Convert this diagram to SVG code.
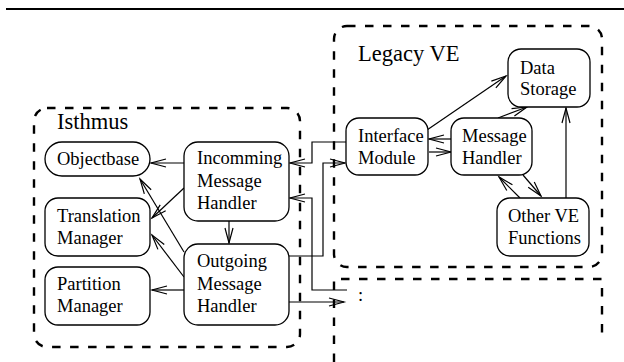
<svg xmlns="http://www.w3.org/2000/svg" width="624" height="362" viewBox="0 0 624 362">
  <style>
    .node { fill: #fff; stroke: #000; stroke-width: 1.3; }
    .group { fill: none; stroke: #000; stroke-width: 2.4; stroke-dasharray: 8.5 9.5; }
    .txt { font-family: "Liberation Serif", "Times New Roman", serif; font-size: 18.5px; fill: #000; }
    .lbl { font-family: "Liberation Serif", "Times New Roman", serif; font-size: 22.5px; fill: #000; }
    .edge { fill: none; stroke: #000; stroke-width: 1.2; marker-end: url(#open); }
    .plain { fill: none; stroke: #000; stroke-width: 1.2; }
  </style>
  <defs>
    <marker id="open" markerUnits="userSpaceOnUse" markerWidth="20" markerHeight="12" viewBox="-16 -6 18 12" refX="0" refY="0" orient="auto">
      <path d="M-15,-4 L0,0 L-15,4" fill="none" stroke="#000" stroke-width="1.2"/>
    </marker>
  </defs>

  <!-- top rule -->
  <line x1="6" y1="9" x2="624" y2="9" stroke="#000" stroke-width="2.2"/>

  <!-- subsystem boundaries -->
  <g id="isthmus">
    <rect class="group" x="34" y="108" width="266" height="239" rx="13"/>
    <text class="lbl" x="57" y="129">Isthmus</text>
  </g>
  <g id="legacy-ve">
    <rect class="group" x="334" y="26" width="268" height="241" rx="13"/>
    <text class="lbl" x="358" y="61">Legacy VE</text>
  </g>
  <g id="other-subsystem">
    <path class="group" d="M334,362 V279 H602 V337"/>
    <text class="txt" x="358" y="301">:</text>
  </g>

  <!-- connectors -->
  <g id="connectors">
    <line class="edge" x1="184" y1="163" x2="151" y2="163"/>
    <line class="edge" x1="184" y1="188" x2="152" y2="218"/>
    <line class="edge" x1="184" y1="252" x2="140" y2="179"/>
    <line class="edge" x1="184" y1="277" x2="152" y2="235"/>
    <line class="edge" x1="184" y1="290" x2="152" y2="290"/>
    <line class="edge" x1="229" y1="221" x2="229" y2="243"/>
    <path class="edge" d="M346,142 H312 V163 H290"/>
    <path class="edge" d="M347,290 H312 V198 H290"/>
    <path class="edge" d="M289,256 H323 V163 H345"/>
    <line class="edge" x1="289" y1="302" x2="344" y2="302"/>
    <line class="edge" x1="427" y1="130" x2="506" y2="76"/>
    <line class="edge" x1="451" y1="139" x2="429" y2="139"/>
    <line class="edge" x1="429" y1="152" x2="451" y2="152"/>
    <line class="edge" x1="498" y1="118" x2="527" y2="107"/>
    <line class="edge" x1="566" y1="198" x2="566" y2="108"/>
    <line class="edge" x1="523" y1="175" x2="541" y2="196"/>
    <line class="edge" x1="520" y1="198" x2="499" y2="177"/>
  </g>

  <!-- Isthmus components -->
  <g id="objectbase">
    <rect class="node" x="45" y="142" width="105" height="34" rx="17"/>
    <text class="txt" x="57" y="165">Objectbase</text>
  </g>
  <g id="translation-manager">
    <rect class="node" x="45" y="198" width="105" height="58" rx="13"/>
    <text class="txt" x="57" y="222">Translation</text>
    <text class="txt" x="57" y="244">Manager</text>
  </g>
  <g id="partition-manager">
    <rect class="node" x="45" y="267" width="105" height="58" rx="13"/>
    <text class="txt" x="57" y="290">Partition</text>
    <text class="txt" x="57" y="312">Manager</text>
  </g>
  <g id="incomming-handler">
    <rect class="node" x="184" y="142" width="105" height="79" rx="14"/>
    <text class="txt" x="197" y="164">Incomming</text>
    <text class="txt" x="197" y="187">Message</text>
    <text class="txt" x="197" y="209">Handler</text>
  </g>
  <g id="outgoing-handler">
    <rect class="node" x="184" y="244" width="105" height="81" rx="14"/>
    <text class="txt" x="197" y="267">Outgoing</text>
    <text class="txt" x="197" y="290">Message</text>
    <text class="txt" x="197" y="312">Handler</text>
  </g>

  <!-- Legacy VE components -->
  <g id="interface-module">
    <rect class="node" x="346" y="118" width="82" height="57" rx="13"/>
    <text class="txt" x="358" y="142">Interface</text>
    <text class="txt" x="358" y="164">Module</text>
  </g>
  <g id="message-handler">
    <rect class="node" x="451" y="118" width="81" height="57" rx="13"/>
    <text class="txt" x="462" y="142">Message</text>
    <text class="txt" x="462" y="164">Handler</text>
  </g>
  <g id="data-storage">
    <rect class="node" x="508" y="49" width="82" height="58" rx="13"/>
    <text class="txt" x="520" y="74">Data</text>
    <text class="txt" x="520" y="95">Storage</text>
  </g>
  <g id="other-ve-functions">
    <rect class="node" x="497" y="198" width="92" height="58" rx="13"/>
    <text class="txt" x="508" y="222">Other VE</text>
    <text class="txt" x="508" y="244">Functions</text>
  </g>
</svg>
